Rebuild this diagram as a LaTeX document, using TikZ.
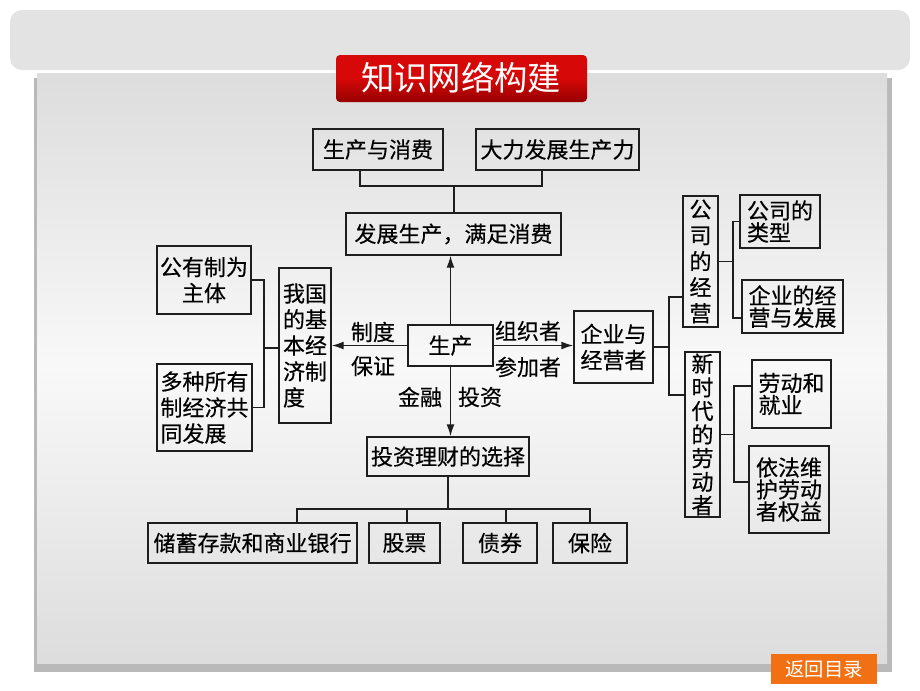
\documentclass[tikz,border=0pt]{standalone}
\usepackage{fontspec}
\setmainfont{Noto Sans CJK SC}
\newfontfamily\boxfam[FakeBold=0.4]{Noto Sans CJK SC}
\usetikzlibrary{arrows.meta,calc}
\definecolor{titlered}{RGB}{214,8,8}
\definecolor{titledark}{RGB}{150,0,0}
\definecolor{btnorange}{RGB}{242,112,20}
\definecolor{linec}{RGB}{30,30,30}
\newcommand\bxfont{\boxfam\fontsize{16.5pt}{19.5pt}\selectfont}
\newcommand\bx[7][]{\node[box,#1,minimum width={(#5-#3)*0.75pt},minimum height={(#6-#4)*0.75pt}] (#2) at ({(#3+#5)/2},{(#4+#6)/2}) {#7};}
\tikzset{
  box/.style={draw=linec,line width=1.1pt,inner sep=0pt,font=\bxfont,align=center,fill=none},
  ln/.style={draw=linec,line width=1.1pt},
  arr/.style={ln,-{Latex[length=9pt,width=6pt]}},
  lbl/.style={font=\bxfont,inner sep=0pt},
  tight/.style={font=\boxfam\fontsize{16.5pt}{16.5pt}\selectfont}
}
\begin{document}
\begin{tikzpicture}[x=0.75pt,y=-0.75pt]
\useasboundingbox (0,0) rectangle (920,690);
\fill[white] (0,0) rectangle (920,690);
% top band
\fill[gray!22,rounded corners=9] (10,10) rectangle (910,70);
% panel shadow and panel
\fill[gray!55] (34,78) rectangle (892,672);
\shade[top color=gray!27,bottom color=gray!27,middle color=gray!5] (37,73) rectangle (887,663);
% title
\shade[top color=titlered,bottom color=titledark,middle color=titlered,rounded corners=3] (336,55) rectangle (587,102);
\node[text=white,font=\fontsize{25pt}{25pt}\selectfont,inner sep=0pt] (title) at (461,78) {知识网络构建};
% return button
\fill[btnorange] (771,654) rectangle (877,684);
\node[text=white,font=\fontsize{14.5pt}{14.5pt}\selectfont,inner sep=0pt] (back) at (824,669) {返回目录};

% boxes
\bx{a}{313}{129}{443}{170}{生产与消费}
\bx{b}{476}{129}{639}{170}{大力发展生产力}
\bx{c}{346}{213}{561}{255}{发展生产，满足消费}
\bx{p}{408}{325}{493}{366}{生产}
\bx[align=left]{g}{279}{268}{331}{423}{我国\\的基\\本经\\济制\\度}
\bx{g1}{157}{246}{251}{314}{公有制为\\主体}
\bx[align=left]{g2}{157}{364}{252}{451}{多种所有\\制经济共\\同发展}
\bx{e}{574}{311}{653}{383}{企业与\\经营者}
\bx{e1}{683}{196}{718}{327}{公\\司\\的\\经\\营}
\bx[font=\boxfam\fontsize{16.5pt}{17.7pt}\selectfont]{e2}{685}{352}{720}{517}{新\\时\\代\\的\\劳\\动\\者}
\bx[tight,align=left]{e11}{740}{195}{820}{248}{公司的\\类型}
\bx[tight]{e12}{742}{280}{843}{333}{企业的经\\营与发展}
\bx[tight,align=left]{e21}{752}{360}{831}{428}{劳动和\\就业}
\bx[tight]{e22}{749}{446}{829}{533}{依法维\\护劳动\\者权益}
\bx{i}{367}{437}{529}{476}{投资理财的选择}
\bx{i1}{148}{523}{357}{563}{储蓄存款和商业银行}
\bx{i2}{369}{523}{440}{563}{股票}
\bx{i3}{463}{523}{537}{563}{债券}
\bx{i4}{553}{523}{627}{563}{保险}

% labels
\node[lbl] (l1) at (373,332) {制度};
\node[lbl] (l2) at (373,366) {保证};
\node[lbl] (l3) at (528,331) {组织者};
\node[lbl] (l4) at (528,367) {参加者};
\node[lbl] (l5) at (420,397) {金融};
\node[lbl] (l6) at (480,397) {投资};

% junction coordinates
\coordinate (j1) at (360,186);
\coordinate (j2) at (542,186);
\coordinate (j3) at (454,186);
\coordinate (k) at (264,348);
\coordinate (m1) at (669,297);
\coordinate (m2) at (669,395);
\coordinate (n1) at (733,223);
\coordinate (n2) at (733,318);
\coordinate (o1) at (734,386);
\coordinate (o2) at (734,482);
\coordinate (q1) at (297,509);
\coordinate (q2) at (407,509);
\coordinate (q3) at (506,509);
\coordinate (q4) at (590,509);

% connectors
\draw[ln] (j1 |- a.south) -- (j1) -- (j2) -- (j2 |- b.south);
\draw[ln] (j3) -- (j3 |- c.north);
\draw[arr] (p.north) -- (p.north |- c.south);
\draw[arr] (p.south) -- (p.south |- i.north);
\draw[arr] (p.west) -- (p.west -| g.east);
\draw[arr] (p.east) -- (p.east -| e.west);
\draw[ln] (g1.east) -- (g1.east -| k) -- (g2.east -| k) -- (g2.east);
\draw[ln] (k) -- (k -| g.west);
\draw[ln] (e.east) -- (e.east -| m1);
\draw[ln] (m1 -| e1.west) -- (m1) -- (m2) -- (m2 -| e2.west);
\draw[ln] (e1.east) -- (e1.east -| n1);
\draw[ln] (e11.west) -- (e11.west -| n1) -- (n2) -- (n2 -| e12.west);
\draw[ln] (e2.east) -- (e2.east -| o1);
\draw[ln] (o1 -| e21.west) -- (o1) -- (o2) -- (o2 -| e22.west);
\draw[ln] (i.south) -- (i.south |- q1);
\draw[ln] (q1 |- i1.north) -- (q1) -- (q4) -- (q4 |- i4.north);
\draw[ln] (q2) -- (q2 |- i2.north);
\draw[ln] (q3) -- (q3 |- i3.north);
\end{tikzpicture}
\end{document}
